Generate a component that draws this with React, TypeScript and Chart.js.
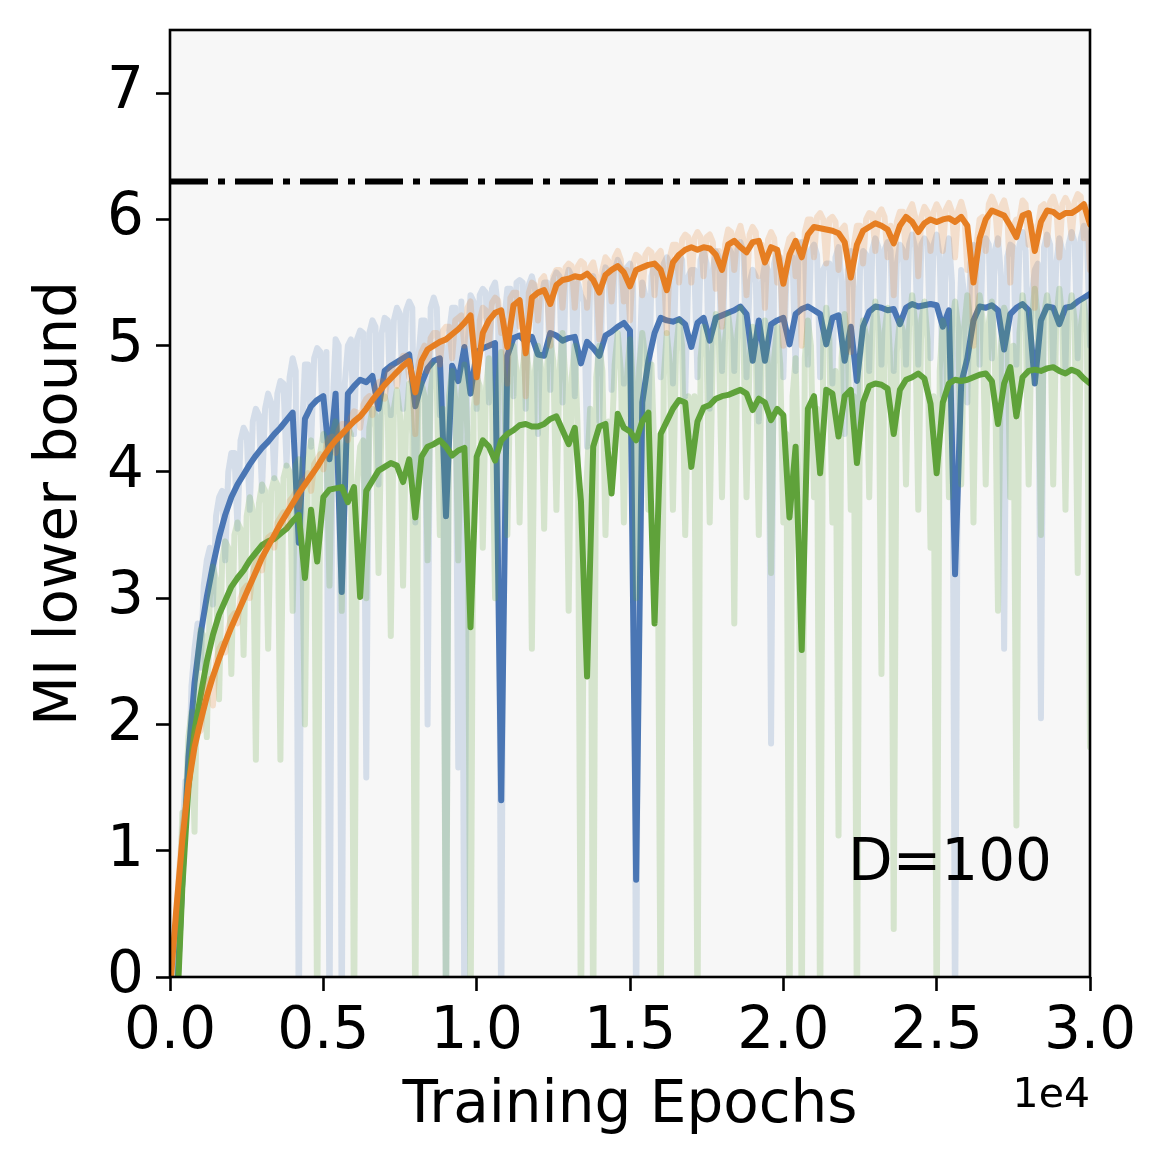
import React, { useEffect, useRef } from "react";
import { Chart, registerables } from "chart.js";

Chart.register(...registerables);

// x grids: smoothed curves sampled every 200 epochs, raw curves every 100 epochs
const EPOCHS: number[] = Array.from({ length: 151 }, (_, i) => i * 200);
const RAW_EPOCHS: number[] = Array.from({ length: 301 }, (_, i) => i * 100);
const X_TICKS = [0, 5000, 10000, 15000, 20000, 25000, 30000];
const Y_TICKS = [0, 1, 2, 3, 4, 5, 6, 7];
const TRUE_MI = 6.3;
const ANNOTATION = "D=100";
const X_LABEL = "Training Epochs";
const Y_LABEL = "MI lower bound";
const X_OFFSET_TEXT = "1e4";

// smoothed curves (epochs 0, 200, ..., 30000)
const BLUE_MAIN = [
  -1.2, -0.3, 0.75, 1.74, 2.33, 2.72, 3.01, 3.26, 3.48, 3.66,
  3.8, 3.9, 3.98, 4.06, 4.13, 4.19, 4.24, 4.3, 4.35, 4.41,
  4.47, 3.44, 4.42, 4.52, 4.57, 4.6, 4.1, 4.62, 3.05, 4.62,
  4.68, 4.73, 4.71, 4.76, 4.5, 4.8, 4.84, 4.87, 4.9, 4.93,
  4.52, 4.7, 4.82, 4.88, 4.9, 3.65, 4.84, 4.72, 4.99, 4.62,
  4.95, 4.98, 5.0, 5.02, 1.4, 4.92, 5.06, 5.08, 5.03, 5.07,
  4.93, 4.92, 5.1, 5.08, 5.04, 5.06, 5.07, 4.86, 5.03, 4.98,
  4.92, 5.08, 5.11, 5.15, 5.18, 5.12, 0.77, 4.55, 4.88, 5.1,
  5.22, 5.2, 5.19, 5.21, 5.17, 4.99, 5.18, 5.22, 5.04, 5.22,
  5.24, 5.26, 5.28, 5.31, 5.25, 4.88, 5.2, 4.88, 5.17, 5.2,
  5.22, 5.01, 5.25, 5.29, 5.31, 5.28, 5.25, 5.01, 5.22, 5.24,
  4.88, 5.15, 4.72, 5.15, 5.27, 5.31, 5.3, 5.28, 5.29, 5.17,
  5.3, 5.33, 5.31, 5.32, 5.33, 5.32, 5.15, 5.28, 3.19, 4.7,
  4.9, 5.2, 5.31, 5.3, 5.32, 5.28, 4.97, 5.25, 5.3, 5.33,
  5.28, 4.7, 5.2, 5.31, 5.3, 5.17, 5.3, 5.31, 5.35, 5.38,
  5.41,
];

const ORANGE_MAIN = [
  -0.1, 0.52, 1.08, 1.52, 1.82, 2.03, 2.22, 2.38, 2.52, 2.65,
  2.77, 2.88, 2.99, 3.1, 3.21, 3.32, 3.41, 3.5, 3.59, 3.67,
  3.75, 3.83, 3.9, 3.97, 4.04, 4.12, 4.19, 4.25, 4.3, 4.35,
  4.4, 4.44, 4.5, 4.57, 4.63, 4.69, 4.74, 4.79, 4.84, 4.88,
  4.63, 4.88, 4.97, 5.0, 5.03, 5.05, 5.09, 5.13, 5.18, 5.24,
  4.75, 5.1, 5.2, 5.26, 5.28, 4.99, 5.32, 5.36, 4.94, 5.38,
  5.42, 5.44, 5.33, 5.48, 5.52, 5.53, 5.55, 5.54, 5.57, 5.52,
  5.42, 5.56, 5.6, 5.63, 5.58, 5.47, 5.6, 5.62, 5.64, 5.65,
  5.6, 5.44, 5.66, 5.72, 5.76, 5.78, 5.76, 5.78, 5.77, 5.72,
  5.6, 5.8, 5.83, 5.78, 5.74, 5.82, 5.83, 5.66, 5.78, 5.76,
  5.49, 5.72, 5.83, 5.7, 5.88, 5.94, 5.93, 5.92, 5.91, 5.89,
  5.82, 5.54, 5.8, 5.91, 5.94, 5.97, 5.95, 5.92, 5.81, 5.95,
  6.02, 5.98, 5.9, 5.97, 6.0, 5.98, 6.0, 6.01, 5.98, 6.02,
  5.95, 5.5, 5.85, 6.0, 6.07, 6.05, 6.03, 5.95, 5.86, 6.03,
  6.05, 5.75, 5.98, 6.07, 6.06, 6.02, 6.05, 6.05, 6.08, 6.12,
  5.96,
];

const GREEN_MAIN = [
  -1.5, -0.45, 0.7, 1.5, 1.95, 2.23, 2.5, 2.71, 2.87, 2.98,
  3.09, 3.16, 3.22, 3.3, 3.36, 3.42, 3.45, 3.47, 3.51, 3.55,
  3.61, 3.66, 3.16, 3.7, 3.29, 3.8, 3.86, 3.87, 3.88, 3.76,
  3.88, 3.01, 3.85, 3.93, 4.01, 4.04, 4.07, 4.05, 3.92, 4.1,
  3.64, 4.12, 4.2, 4.22, 4.25, 4.2, 4.13, 4.17, 4.19, 2.77,
  4.12, 4.25, 4.2, 4.09, 4.25, 4.3, 4.33, 4.37, 4.38, 4.36,
  4.36, 4.38, 4.42, 4.44, 4.33, 4.22, 4.35, 3.77, 2.38, 4.2,
  4.36, 4.38, 3.83, 4.46, 4.35, 4.32, 4.25, 4.4, 4.47, 2.8,
  4.3, 4.4, 4.5, 4.57, 4.55, 4.04, 4.4, 4.51, 4.53, 4.58,
  4.6, 4.61, 4.63, 4.65, 4.62, 4.49, 4.58, 4.55, 4.41, 4.5,
  4.45, 3.64, 4.2, 2.59, 4.5, 4.6, 3.99, 4.65, 4.62, 4.28,
  4.6, 4.65, 4.07, 4.55, 4.68, 4.7, 4.69, 4.66, 4.3, 4.65,
  4.73, 4.75, 4.78, 4.74, 4.54, 3.99, 4.55, 4.7, 4.73, 4.72,
  4.73, 4.75, 4.77, 4.78, 4.72, 4.38, 4.7, 4.83, 4.44, 4.75,
  4.8, 4.81, 4.8, 4.82, 4.83, 4.8, 4.78, 4.81, 4.79, 4.74,
  4.7,
];

// raw (unsmoothed) estimates, drawn faint.
// *_RAW_A: samples at epochs 0, 200, ..., 30000; *_RAW_B: samples at 100, 300, ..., 29900
const BLUE_RAW_A = [
  -1.0, 0.1, 1.1, 1.5, 2.6, 2.45, 3.3, 2.95, 3.8, 3.3,
  4.15, 3.55, 4.35, 3.7, 4.5, 3.85, 4.62, 3.95, 4.72, 4.05,
  4.9, -0.5, 4.85, 4.2, 4.98, 4.25, -0.5, 5.05, -0.5, 5.0,
  4.3, 5.12, 1.58, 5.2, 3.9, 5.22, 4.45, 5.3, 4.5, 5.35,
  3.6, 5.2, 2.0, 5.38, 4.45, -0.5, 5.3, 1.66, -0.5, 5.4,
  4.5, 5.45, 4.55, 5.5, -0.5, 5.45, 4.6, 5.52, 4.5, 5.55,
  4.3, 5.5, 4.65, 5.58, 4.55, 5.6, 4.6, 5.4, 4.2, 5.55,
  4.4, 5.62, 4.65, 5.68, 4.7, 5.65, -0.5, 5.5, 4.4, 5.65,
  4.75, 5.7, 4.7, 5.72, 4.6, 5.6, 4.75, 5.75, 4.5, 5.75,
  4.8, 5.78, 4.8, 5.82, 4.75, 5.6, 4.4, 5.65, 1.85, 5.75,
  4.75, 5.7, 4.8, 5.82, 4.85, 5.8, 4.75, 5.65, 4.7, 5.78,
  4.3, 5.75, 4.2, 5.75, 4.8, 5.85, 4.85, 5.82, 4.8, 5.8,
  4.85, 5.88, 4.85, 5.85, 4.9, 5.88, 4.6, 5.85, -0.5, 5.6,
  4.55, 5.8, 4.85, 5.85, 4.9, 5.85, 2.6, 5.8, 4.85, 5.9,
  4.8, 5.6, 2.05, 5.88, 4.85, 5.85, 4.8, 5.9, 4.9, 5.95,
  5.0,
];
const BLUE_RAW_B = [
  -0.4, 0.6, 1.55, 2.3, 2.8, 3.1, 3.4, 3.65, 3.85, 4.0,
  4.15, 4.25, 4.3, 4.4, 4.45, 4.5, 4.55, 4.62, 4.7, 4.75,
  4.8, 4.3, 4.85, 4.9, 4.95, 4.95, 4.5, 5.0, 4.7, 5.05,
  5.05, 5.1, 5.1, 5.15, 5.1, 5.2, 5.2, 5.25, 5.28, 5.3,
  4.9, 5.2, 5.3, 5.3, 5.0, 5.1, 5.3, 5.35, 5.0, 5.35,
  5.4, 5.42, 5.45, 5.3, 5.2, 5.45, 5.5, 5.5, 5.48, 5.45,
  5.35, 5.5, 5.52, 5.55, 5.5, 5.55, 5.5, 5.35, 5.5, 5.45,
  5.5, 5.58, 5.6, 5.62, 5.62, 5.5, 4.8, 5.4, 5.55, 5.62,
  5.65, 5.65, 5.65, 5.68, 5.55, 5.6, 5.68, 5.65, 5.6, 5.7,
  5.72, 5.74, 5.76, 5.75, 5.5, 5.55, 5.5, 5.6, 5.65, 5.68,
  5.55, 5.7, 5.75, 5.78, 5.76, 5.72, 5.6, 5.65, 5.7, 5.5,
  5.6, 5.45, 5.6, 5.72, 5.76, 5.78, 5.76, 5.75, 5.65, 5.76,
  5.8, 5.78, 5.8, 5.8, 5.8, 5.7, 5.72, 5.5, 4.9, 5.4,
  5.65, 5.76, 5.78, 5.8, 5.76, 5.55, 5.7, 5.78, 5.8, 5.75,
  5.4, 5.65, 5.78, 5.8, 5.65, 5.75, 5.8, 5.82, 5.85, 5.88,
];

const ORANGE_RAW_A = [
  -0.05, 0.45, 1.15, 1.45, 1.9, 1.95, 2.3, 2.15, 2.6, 2.57,
  2.85, 2.8, 3.07, 3.0, 3.28, 3.22, 3.48, 3.4, 3.64, 3.56,
  3.8, 3.72, 3.94, 3.85, 4.1, 4.02, 4.27, 4.15, 4.38, 4.25,
  4.48, 4.35, 4.58, 4.45, 4.71, 4.58, 4.82, 4.68, 4.92, 4.75,
  4.3, 4.95, 4.8, 5.1, 4.85, 5.15, 4.9, 5.22, 5.0, 5.35,
  4.55, 5.3, 5.0, 5.38, 5.1, 4.7, 5.42, 5.15, 4.6, 5.5,
  5.2, 5.55, 5.0, 5.6, 5.3, 5.65, 5.3, 5.67, 5.3, 5.66,
  5.05, 5.7, 5.35, 5.75, 5.35, 5.2, 5.72, 5.4, 5.76, 5.4,
  5.75, 5.1, 5.8, 5.5, 5.88, 5.5, 5.9, 5.55, 5.88, 5.45,
  5.15, 5.92, 5.6, 5.95, 5.4, 5.94, 5.55, 5.3, 5.9, 5.5,
  5.0, 5.85, 5.55, 5.0, 6.0, 5.7, 6.05, 5.65, 6.02, 5.6,
  5.95, 4.95, 5.95, 5.65, 6.05, 5.75, 6.08, 5.7, 5.4, 6.06,
  5.7, 6.12, 5.55, 6.1, 5.75, 6.12, 5.75, 6.13, 5.7, 6.14,
  5.6, 5.0, 6.0, 5.75, 6.18, 5.8, 6.15, 5.5, 6.0, 6.15,
  5.8, 5.3, 6.1, 5.8, 6.18, 5.7, 6.17, 5.85, 6.2, 5.85,
  5.6,
];
const ORANGE_RAW_B = [
  0.25, 0.85, 1.35, 1.72, 1.98, 2.18, 2.36, 2.5, 2.64, 2.76,
  2.88, 3.0, 3.1, 3.21, 3.32, 3.42, 3.5, 3.6, 3.68, 3.77,
  3.84, 3.92, 3.99, 4.06, 4.14, 4.22, 4.28, 4.33, 4.38, 4.43,
  4.47, 4.53, 4.6, 4.66, 4.72, 4.77, 4.82, 4.87, 4.92, 4.7,
  4.85, 5.0, 5.06, 5.1, 5.12, 5.15, 5.2, 5.24, 5.3, 5.0,
  5.2, 5.28, 5.34, 5.36, 5.2, 5.38, 5.42, 5.2, 5.42, 5.48,
  5.52, 5.42, 5.55, 5.6, 5.62, 5.63, 5.63, 5.65, 5.62, 5.55,
  5.6, 5.67, 5.7, 5.68, 5.6, 5.65, 5.7, 5.72, 5.74, 5.72,
  5.6, 5.7, 5.8, 5.84, 5.86, 5.85, 5.86, 5.86, 5.82, 5.75,
  5.8, 5.9, 5.88, 5.84, 5.88, 5.9, 5.8, 5.84, 5.85, 5.7,
  5.75, 5.88, 5.82, 5.9, 6.0, 6.02, 6.0, 6.0, 5.98, 5.92,
  5.75, 5.8, 5.95, 6.0, 6.04, 6.04, 6.02, 5.95, 5.98, 6.06,
  6.07, 6.02, 6.02, 6.06, 6.06, 6.07, 6.08, 6.06, 6.07, 6.05,
  5.8, 5.8, 6.02, 6.12, 6.12, 6.1, 6.05, 5.95, 6.0, 6.12,
  5.95, 5.95, 6.12, 6.14, 6.1, 6.12, 6.12, 6.14, 6.18, 6.1,
];

const GREEN_RAW_A = [
  -1.2, 0.2, 1.3, 1.9, 1.15, 2.75, 1.9, 3.25, 2.2, 3.45,
  2.4, 3.6, 2.55, 3.8, 1.72, 3.9, 2.6, 3.95, 1.72, 4.05,
  2.9, 4.1, 2.0, 4.25, -0.5, 4.3, 3.1, 4.4, 2.9, 4.35,
  -0.5, 4.2, 3.0, 4.5, 3.2, 4.6, 2.7, 4.65, 3.1, 4.7,
  -0.5, 4.7, 3.3, 4.85, 3.5, -0.5, 4.8, 3.3, 4.85, -0.5,
  4.75, 3.4, 4.9, 3.0, 4.95, 3.5, 5.0, 3.6, 5.02, 2.6,
  5.0, 3.55, 5.05, 3.7, 5.1, 2.9, 5.0, -0.5, 4.0, -0.5,
  5.0, 3.5, 4.2, 5.1, 3.6, 5.05, 3.0, 5.1, 3.7, 4.1,
  -0.5, 5.1, 3.7, 5.2, 3.5, 4.3, -0.5, 5.15, 3.6, 5.25,
  3.8, 5.25, 2.8, 5.3, 3.8, 5.15, 3.5, 5.2, 3.2, 5.15,
  3.6, -0.5, 4.9, -0.5, 5.2, 3.8, -0.5, 5.3, 3.6, 1.12,
  5.25, 3.7, -0.5, 5.2, 3.8, 5.35, 2.4, 5.3, 0.38, 5.2,
  3.9, 5.4, 3.7, 5.35, 3.4, -0.5, 5.2, 3.8, 5.35, 3.9,
  5.4, 3.6, 5.4, 3.9, 5.35, 2.9, 5.3, 3.8, 1.2, 5.4,
  3.9, 5.45, 3.5, 5.4, 3.9, 5.45, 3.7, 5.4, 3.2, 5.35,
  1.82,
];
const GREEN_RAW_B = [
  -0.9, 0.4, 1.3, 2.1, 2.5, 2.7, 3.0, 3.15, 3.3, 3.4,
  3.5, 3.55, 3.65, 3.7, 3.75, 3.85, 3.85, 3.9, 3.95, 4.0,
  4.05, 3.6, 4.1, 4.0, 4.15, 4.25, 4.3, 4.3, 4.2, 4.3,
  3.9, 4.25, 4.35, 4.45, 4.45, 4.5, 4.5, 4.45, 4.4, 4.3,
  4.55, 4.6, 4.65, 4.68, 4.5, 4.6, 4.58, 4.62, 4.3, 4.5,
  4.68, 4.65, 4.55, 4.7, 4.72, 4.75, 4.8, 4.82, 4.8, 4.8,
  4.82, 4.85, 4.88, 4.8, 4.7, 4.75, 4.3, 3.5, 4.5, 4.75,
  4.8, 4.4, 4.85, 4.8, 4.75, 4.7, 4.82, 4.9, 4.85, 3.8,
  4.75, 4.85, 4.95, 5.0, 4.6, 4.6, 4.9, 4.95, 5.0, 5.02,
  5.05, 5.05, 5.08, 5.05, 4.9, 5.0, 4.95, 4.85, 4.9, 4.85,
  4.3, 4.6, 3.8, 4.9, 5.0, 4.5, 5.05, 5.05, 4.8, 4.9,
  5.05, 4.6, 4.9, 5.08, 5.12, 5.12, 5.1, 4.8, 4.95, 5.12,
  5.15, 5.18, 5.2, 5.05, 4.6, 4.8, 5.1, 5.15, 5.15, 5.15,
  5.18, 5.2, 5.2, 5.18, 4.9, 5.0, 5.22, 5.0, 5.1, 5.2,
  5.22, 5.22, 5.24, 5.25, 5.22, 5.2, 5.22, 5.2, 5.15, 5.1,
];

const BLUE = "#4a76b4";
const ORANGE = "#e67e22";
const GREEN = "#5fa23a";
const rgba = (hex: string, a: number) => {
  const n = parseInt(hex.slice(1), 16);
  return `rgba(${(n >> 16) & 255},${(n >> 8) & 255},${n & 255},${a})`;
};

const FONT = "'DejaVu Sans', 'Liberation Sans', sans-serif";

const toXY = (arr: number[]) => EPOCHS.map((e, i) => ({ x: e, y: arr[i] }));
const rawXY = (a: number[], b: number[]) =>
  RAW_EPOCHS.map((e, k) => ({ x: e, y: k % 2 === 0 ? a[k / 2] : b[(k - 1) / 2] }));

const framePlugin = {
  id: "frameAndText",
  beforeDraw(chart: any) {
    const { ctx, chartArea: a } = chart;
    ctx.save();
    ctx.fillStyle = "#ffffff";
    ctx.fillRect(0, 0, chart.width, chart.height);
    ctx.fillStyle = "#f7f7f7";
    ctx.fillRect(a.left, a.top, a.right - a.left, a.bottom - a.top);
    ctx.restore();
  },
  afterDraw(chart: any) {
    const { ctx, chartArea: a } = chart;
    ctx.save();
    ctx.strokeStyle = "#000000";
    ctx.lineWidth = 2.6;
    ctx.strokeRect(a.left, a.top, a.right - a.left, a.bottom - a.top);
    ctx.fillStyle = "#000000";
    ctx.textAlign = "right";
    ctx.textBaseline = "alphabetic";
    ctx.font = `58px ${FONT}`;
    ctx.fillText(ANNOTATION, a.right - 38, a.bottom - 97);
    ctx.font = `41px ${FONT}`;
    ctx.fillText(X_OFFSET_TEXT, a.right, a.bottom + 130);
    ctx.restore();
  },
};

export default function App() {
  const ref = useRef<HTMLCanvasElement | null>(null);

  useEffect(() => {
    document.body.style.margin = "0";
    const canvas = ref.current;
    if (!canvas) return;

    const lineDs = (label: string, data: any[], color: string, width: number, order: number) => ({
      label,
      data,
      borderColor: color,
      backgroundColor: color,
      borderWidth: width,
      pointRadius: 0,
      pointHoverRadius: 0,
      tension: 0,
      fill: false,
      borderJoinStyle: "round" as const,
      borderCapStyle: "round" as const,
      clip: 0,
      order,
    });

    const chart = new Chart(canvas, {
      type: "line",
      data: {
        datasets: [
          lineDs("blue raw", rawXY(BLUE_RAW_A, BLUE_RAW_B), rgba(BLUE, 0.2), 6, 6),
          lineDs("blue", toXY(BLUE_MAIN), BLUE, 6, 5),
          lineDs("green raw", rawXY(GREEN_RAW_A, GREEN_RAW_B), rgba(GREEN, 0.22), 6, 4),
          lineDs("green", toXY(GREEN_MAIN), GREEN, 6, 3),
          lineDs("orange raw", rawXY(ORANGE_RAW_A, ORANGE_RAW_B), rgba(ORANGE, 0.2), 6, 2),
          lineDs("orange", toXY(ORANGE_MAIN), ORANGE, 6, 1),
          {
            label: "true MI",
            data: [
              { x: X_TICKS[0], y: TRUE_MI },
              { x: X_TICKS[X_TICKS.length - 1], y: TRUE_MI },
            ],
            borderColor: "#000000",
            borderWidth: 6,
            borderDash: [38, 10, 7, 10],
            borderCapStyle: "butt" as const,
            pointRadius: 0,
            fill: false,
            clip: 0,
            order: 0,
          },
        ],
      },
      options: {
        responsive: false,
        animation: false,
        devicePixelRatio: 1,
        events: [],
        layout: { padding: { top: 30, right: 78, left: 0, bottom: 0 } },
        plugins: {
          legend: { display: false },
          tooltip: { enabled: false },
          title: { display: false },
        },
        scales: {
          x: {
            type: "linear",
            min: X_TICKS[0],
            max: X_TICKS[X_TICKS.length - 1],
            afterFit: (s: any) => {
              s.height = 189;
              s.paddingLeft = 0;
              s.paddingRight = 0;
            },
            afterBuildTicks: (s: any) => {
              s.ticks = X_TICKS.map((v) => ({ value: v }));
            },
            ticks: {
              color: "#000000",
              font: { family: FONT, size: 58 },
              padding: 7,
              maxRotation: 0,
              autoSkip: false,
              callback: (v: any) => (Number(v) / 10000).toFixed(1),
            },
            grid: {
              display: true,
              drawOnChartArea: false,
              drawTicks: true,
              tickLength: 14,
              tickWidth: 2.6,
              tickColor: "#000000",
            },
            border: { display: false },
            title: {
              display: true,
              text: X_LABEL,
              color: "#000000",
              font: { family: FONT, size: 58 },
              padding: { top: 0, bottom: 24 },
            },
          },
          y: {
            type: "linear",
            min: 0,
            max: 7.5,
            afterFit: (s: any) => {
              s.width = 170;
              s.paddingTop = 0;
              s.paddingBottom = 0;
            },
            afterBuildTicks: (s: any) => {
              s.ticks = Y_TICKS.map((v) => ({ value: v }));
            },
            ticks: {
              color: "#000000",
              font: { family: FONT, size: 58 },
              padding: 12,
              autoSkip: false,
              callback: (v: any) => String(v),
            },
            grid: {
              display: true,
              drawOnChartArea: false,
              drawTicks: true,
              tickLength: 14,
              tickWidth: 2.6,
              tickColor: "#000000",
            },
            border: { display: false },
            title: {
              display: true,
              text: Y_LABEL,
              color: "#000000",
              font: { family: FONT, size: 58 },
              padding: { top: 26, bottom: 0 },
            },
          },
        },
      },
      plugins: [framePlugin],
    } as any);

    return () => chart.destroy();
  }, []);

  return (
    <div style={{ width: 1168, height: 1166 }}>
      <canvas ref={ref} width={1168} height={1166} style={{ display: "block", width: 1168, height: 1166 }} />
    </div>
  );
}
